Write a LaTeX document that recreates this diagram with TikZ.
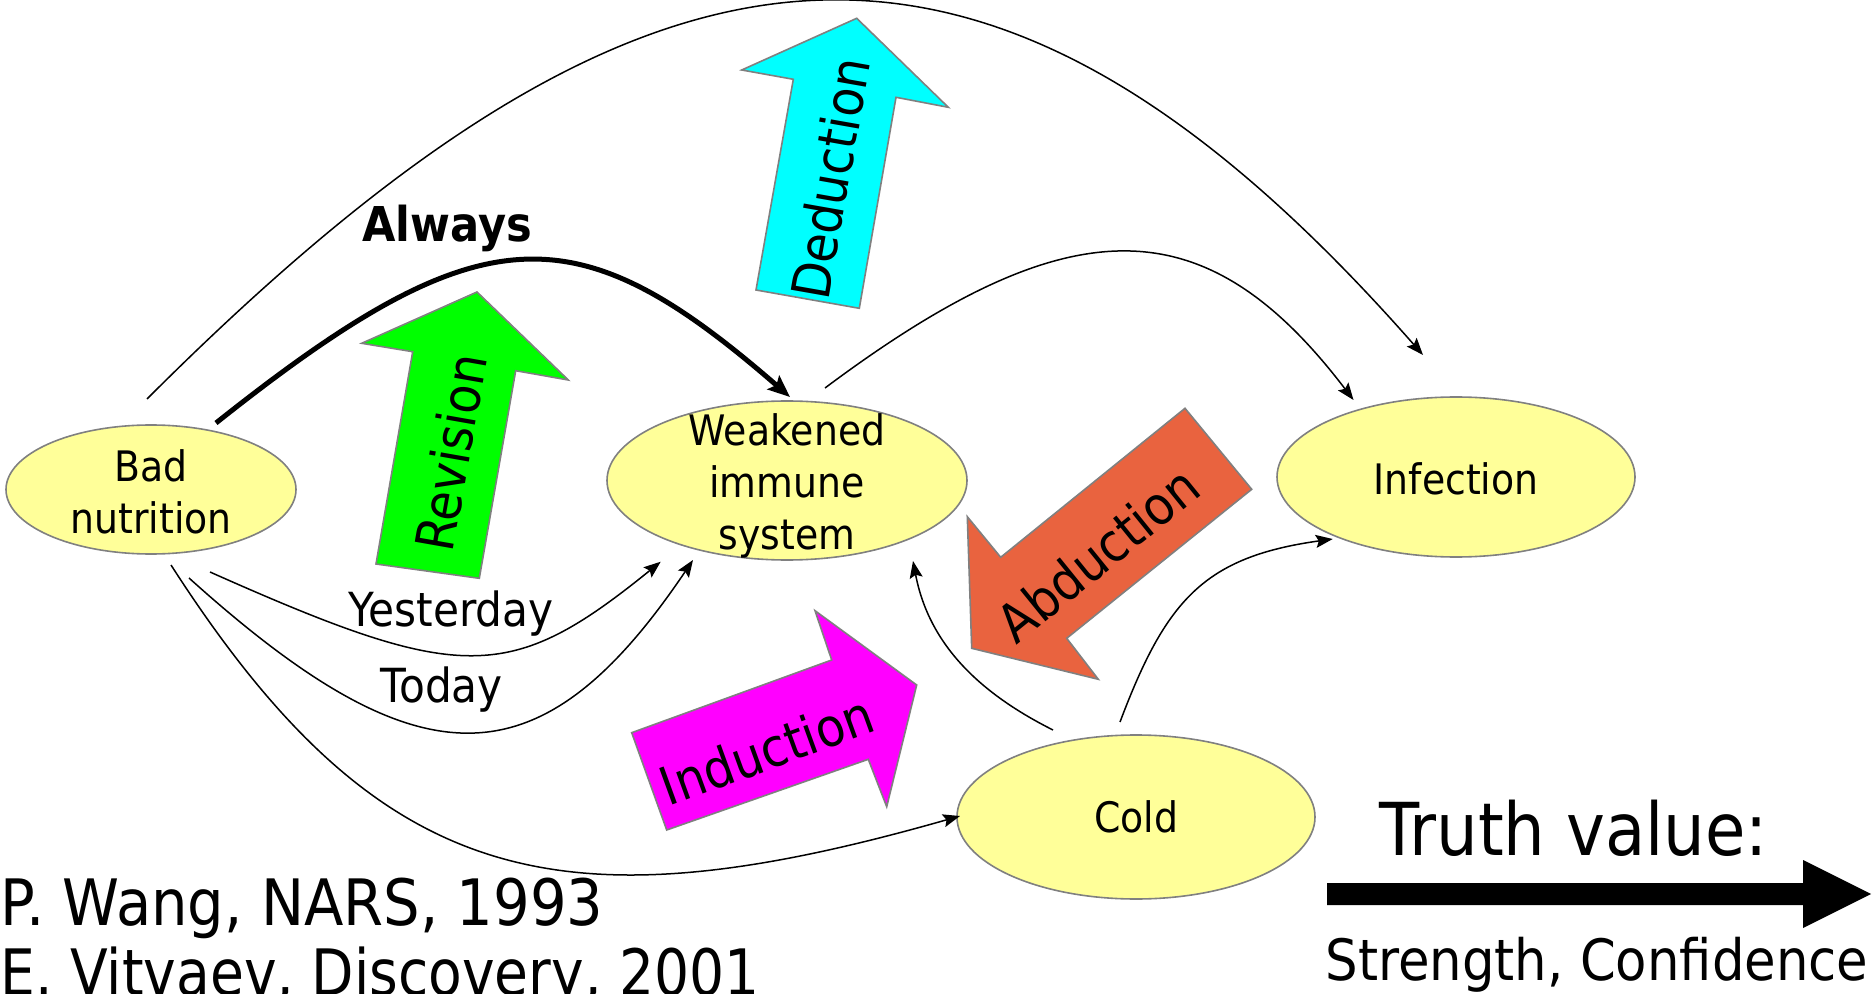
\documentclass[tikz,border=0pt]{standalone}
\usepackage{fontspec}
\setmainfont{DejaVu Sans}[FakeStretch=0.90]
\usetikzlibrary{shapes.geometric,arrows.meta,calc}

\definecolor{nodefill}{HTML}{FFFF99}
\definecolor{edgegray}{HTML}{808080}
\definecolor{revgreen}{HTML}{00FF00}
\definecolor{dedcyan}{HTML}{00FFFF}
\definecolor{indmagenta}{HTML}{FF00FF}
\definecolor{abdorange}{HTML}{E9633F}

\begin{document}
\begin{tikzpicture}[x=0.5pt,y=-0.5pt,
  concept/.style={ellipse, draw=edgegray, line width=0.8pt, fill=nodefill,
    inner sep=0pt, outer sep=0pt},
  conceptlabel/.style={align=center, font=\fontsize{21}{26}\selectfont, inner sep=0pt},
  link/.style={line width=0.75pt, -{Stealth[length=8.5pt,width=6.5pt,inset=1.5pt]}},
  strong link/.style={line width=2.5pt, -{Stealth[length=11pt,width=9pt,inset=2pt]}},
  blockarrow/.style={draw=edgegray, line width=0.8pt, line join=miter},
  ruletext/.style={font=\fontsize{26.5}{30}\selectfont, inner sep=0pt},
  edgetext/.style={font=\fontsize{23.5}{28}\selectfont, inner sep=0pt, anchor=base},
  citetext/.style={font=\fontsize{32}{36}\selectfont, anchor=base west, inner sep=0pt},
]
\useasboundingbox (0,0) rectangle (1874,994);

% concepts
\node[concept, minimum width=145pt, minimum height=64.5pt] (bad) at (151,489.5) {};
\node[conceptlabel] (bad-text) at ([shift={(0,2)}]bad.center) {Bad\\nutrition};
\node[concept, minimum width=180pt, minimum height=79.5pt] (weak) at (787,480.5) {};
\node[conceptlabel] (weak-text) at ([shift={(0,5)}]weak.center) {Weakened\\immune\\system};
\node[concept, minimum width=179pt, minimum height=80pt] (inf) at (1456,477) {};
\node[conceptlabel] (inf-text) at ([shift={(0,2)}]inf.center) {Infection};
\node[concept, minimum width=179pt, minimum height=82pt] (cold) at (1136,817) {};
\node[conceptlabel] (cold-text) at (cold) {Cold};

% inference rules as block arrows
\path[blockarrow, fill=revgreen] (477,292) -- (568.3,380) -- (515.7,370.7) -- (479.3,578.3)
  -- (376,564) -- (412.7,351.7) -- (361.7,343.3) -- cycle;
\node[ruletext, rotate=80] (revision) at (450.7,452.3) {Revision};

\path[blockarrow, fill=dedcyan] (856.7,18.3) -- (948.3,107.3) -- (896,97.3) -- (859.3,308.3)
  -- (756,290) -- (793.3,79.3) -- (741.7,70) -- cycle;
\node[ruletext, rotate=80] (deduction) at (830,178.3) {Deduction};

\path[blockarrow, fill=abdorange] (971.7,648.3) -- (967.3,516.7) -- (1000.7,557.3) -- (1185,408.3)
  -- (1251.7,489.3) -- (1066.7,638.3) -- (1098.3,679.3) -- cycle;
\node[ruletext, rotate=39] (abduction) at (1098,554) {Abduction};

\path[blockarrow, fill=indmagenta] (916.7,685) -- (815,610.7) -- (831.7,660) -- (631.7,732.7)
  -- (666.7,830) -- (868.3,759.3) -- (886.7,806.7) -- cycle;
\node[ruletext, rotate=20] (induction) at (766.7,750) {Induction};

% links between concepts
\draw[link] ([shift={(-4,-26)}]bad.north) .. controls (647,-101) and (983,-145)
  .. ([shift={(-33,-42)}]inf.north);
\draw[strong link] ([shift={(65,-2)}]bad.north) .. controls (482.6,211) and (576,211)
  .. ([shift={(3,-4)}]weak.north);
\node[font=\bfseries\fontsize{24}{28}\selectfont, anchor=base, inner sep=0pt] (always) at (447,242) {Always};
\draw[link] ([shift={(38,-13)}]weak.north) .. controls (1070,205) and (1205,205)
  .. ([shift={(-102.5,3)}]inf.north);
\draw[link] ([shift={(59,18)}]bad.south) .. controls (461.6,684) and (509.7,684)
  .. ([shift={(-126.3,1.7)}]weak.south);
\node[edgetext] (yesterday) at (451,626) {Yesterday};
\draw[link] ([shift={(38,24)}]bad.south) .. controls (420,786) and (540.6,786)
  .. ([shift={(-94,0)}]weak.south);
\node[edgetext] (today) at (441.6,702) {Today};
\draw[link] ([shift={(20,11)}]bad.south) .. controls (380,890) and (560,930)
  .. ([shift={(3,-1)}]cold.west);
\draw[link] ([shift={(-83,-5)}]cold.north) .. controls (972.8,689.8) and (928,639.4)
  .. ([shift={(126,1)}]weak.south);
\draw[link] ([shift={(-16,-13)}]cold.north) .. controls (1166,600) and (1204,557)
  .. ([shift={(-123.3,-18)}]inf.south);

% truth value legend
\fill (1327,883) -- (1803,883) -- (1803,860) -- (1871,894) -- (1803,928) -- (1803,905)
  -- (1327,905) -- cycle;
\node[font=\fontsize{36.5}{40}\selectfont, anchor=base, inner sep=0pt] (truth) at (1573.5,855) {Truth value:};
\node[font=\fontsize{28.5}{32}\selectfont, anchor=base, inner sep=0pt] (strength) at (1597,980) {Strength, Confidence};

% references
\node[citetext] (cite1) at (0,925) {P. Wang, NARS, 1993};
\node[citetext, xscale=0.957] (cite2) at (0,995) {E. Vitvaev, Discovery, 2001};
\end{tikzpicture}
\end{document}
